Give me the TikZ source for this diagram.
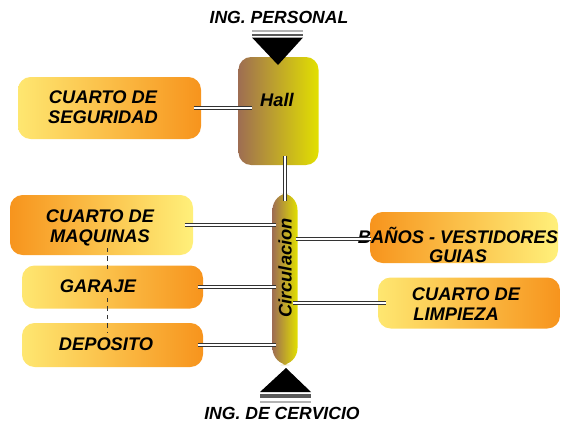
\documentclass[tikz,border=0pt]{standalone}
\usepackage{fontspec}
\setmainfont{Liberation Sans}
\definecolor{orng}{HTML}{F7941D}
\definecolor{lyel}{HTML}{FFF07A}
\definecolor{brwn}{HTML}{9E6E52}
\definecolor{hyel}{HTML}{E2E000}
\tikzset{
  every picture/.style={line width=0.75pt},
  roomtxt/.style={font=\fontsize{13}{14}\selectfont\bfseries\itshape, align=center, inner sep=0pt},
  room/.style={rounded corners=9pt, inner sep=0pt, draw=none},
  oyroom/.style={room, left color=orng, right color=lyel},
  yoroom/.style={room, left color=lyel!90!orng, right color=orng},
  bybox/.style={room, left color=brwn, right color=hyel},
  link/.style={draw=black!80, line width=0.55pt, double=white, double distance=1.7pt},
  linkdash/.style={draw=black!80, line width=0.6pt, dashed}
}
\begin{document}
\begin{tikzpicture}[x=0.025cm, y=-0.025cm]
  \useasboundingbox (0,0) rectangle (561,429);
  % rooms
  \node[yoroom, minimum width=183*0.025cm, minimum height=62*0.025cm] (seg) at (109.5,108) {};
  \node[bybox, minimum width=80*0.025cm, minimum height=108*0.025cm] (hall) at (278.5,111) {};
  \node[bybox, rounded corners=12pt, minimum width=25*0.025cm, minimum height=172*0.025cm] (circ) at (285,279) {};
  \node[oyroom, minimum width=183*0.025cm, minimum height=60*0.025cm] (maq) at (101.5,225) {};
  \node[yoroom, minimum width=181*0.025cm, minimum height=43*0.025cm] (gar) at (112.5,287) {};
  \node[yoroom, minimum width=181*0.025cm, minimum height=44*0.025cm] (dep) at (112.5,345) {};
  \node[oyroom, minimum width=188*0.025cm, minimum height=51*0.025cm] (ban) at (464,237.5) {};
  \node[yoroom, minimum width=182*0.025cm, minimum height=51*0.025cm] (lim) at (469,303) {};
  % texts
  \node[roomtxt] (segtxt) at (103,107) {CUARTO DE\\SEGURIDAD};
  \node[roomtxt] (halltxt) at (277,100) {Hall};
  \node[roomtxt, rotate=90] (circtxt) at (285,268) {Circulacion};
  \node[roomtxt] (maqtxt) at (100,228) {CUARTO DE\\MAQUINAS};
  \node[roomtxt] (gartxt) at (98,286) {GARAJE};
  \node[roomtxt] (deptxt) at (106,344) {DEPOSITO};
  \node[roomtxt] (bantxt) at (458,245) {BAÑOS - VESTIDORES\\GUIAS};
  \node[roomtxt, align=left] (limtxt) at (466,304) {CUARTO DE\\\hspace{1pt}LIMPIEZA};
  \node[roomtxt, font=\fontsize{12.5}{14}\selectfont\bfseries\itshape] (inper) at (279,17) {ING. PERSONAL};
  \node[roomtxt, font=\fontsize{12.5}{14}\selectfont\bfseries\itshape] (inser) at (282,413) {ING. DE CERVICIO};
  % connectors
  \draw[link, shorten <=-0.2cm, shorten >=-0.35cm] (seg.east) -- (seg.east -| hall.west);
  \draw[link, shorten <=-0.25cm, shorten >=-0.225cm] ([xshift=0.1625cm]hall.south) -- ([xshift=0.1625cm]hall.south |- circ.north);
  \draw[link, shorten <=-0.225cm, shorten >=-0.1cm] (maq.east) -- (maq.east -| circ.west);
  \draw[link] ([xshift=-0.15cm]gar.east) -- ([xshift=0.1cm]gar.east -| circ.west);
  \draw[link, shorten <=-0.15cm, shorten >=-0.1cm] (dep.east) -- (dep.east -| circ.west);
  \draw[link, shorten <=-0.0625cm, shorten >=-0.05cm] ([yshift=-0.04cm]ban.west -| circ.east) -- ([yshift=-0.04cm]ban.west);
  \draw[link] ([xshift=-0.125cm]lim.west -| circ.east) -- ([xshift=0.225cm]lim.west);
  \coordinate (d1) at (107,248);
  \coordinate (d2) at (107,270);
  \coordinate (d3) at (107,298);
  \coordinate (d4) at (107,333);
  \draw[linkdash] (d1) -- (d2);
  \draw[linkdash] (d3) -- (d4);
  % entrances
  \draw[black!30, line width=1.2pt] (252,31) -- (303,31);
  \draw[black!65, line width=2pt] (252,35) -- (303,35);
  \fill[black] (252,37.5) -- (303,37.5) -- (278,65) -- cycle;
  \fill[black] (260,392) -- (311,392) -- (286,368) -- cycle;
  \draw[black!65, line width=2.2pt] (260,396) -- (311,396);
  \draw[black!30, line width=1.2pt] (260,402) -- (311,402);
\end{tikzpicture}
\end{document}
